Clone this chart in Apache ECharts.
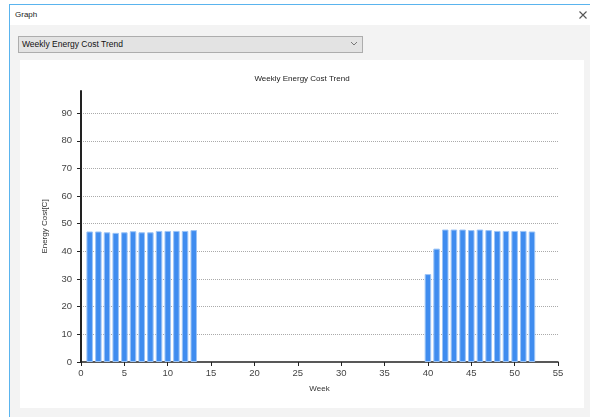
<!DOCTYPE html>
<html><head><meta charset="utf-8">
<script src="https://cdn.jsdelivr.net/npm/echarts@6/dist/echarts.min.js"></script>
<style>
html,body{margin:0;padding:0;width:590px;height:417px;overflow:hidden;background:#fff;font-family:"Liberation Sans",Arial,sans-serif;}
.abs{position:absolute;}
#chart{position:absolute;left:20px;top:60px;width:564px;height:348px;background:#fff;}
</style></head>
<body>
<div class="abs" style="left:10px;top:25px;width:580px;height:392px;background:#f3f3f3;"></div>
<div class="abs" style="left:9px;top:4px;width:581px;height:1px;background:#5ab4ee;"></div>
<div class="abs" style="left:9px;top:4px;width:1px;height:413px;background:#5ab4ee;"></div>
<div class="abs" style="left:15px;top:10px;font-size:8px;color:#222;">Graph</div>
<svg class="abs" style="left:579px;top:11px;" width="8" height="8"><path d="M0.5 0.5 L7.5 7.5 M7.5 0.5 L0.5 7.5" stroke="#555" stroke-width="1.1" fill="none"/></svg>
<div class="abs" style="left:18px;top:36px;width:343px;height:15px;background:#e3e3e3;border:1px solid #adadad;"></div>
<div class="abs" style="left:22px;top:39px;font-size:8.5px;color:#111;">Weekly Energy Cost Trend</div>
<svg class="abs" style="left:350px;top:41px;" width="8" height="6"><path d="M1 1 L4 4 L7 1" stroke="#777" stroke-width="1" fill="none"/></svg>
<div id="chart"></div>
<script>
const weeks = [1,2,3,4,5,6,7,8,9,10,11,12,13,40,41,42,43,44,45,46,47,48,49,50,51,52];
const costs = [47.2,47.2,46.9,46.7,46.9,47.3,46.9,46.9,47.4,47.4,47.4,47.4,47.7,31.8,41.0,47.9,47.9,47.9,47.7,47.9,47.7,47.4,47.4,47.4,47.4,47.2];
const yTicks = [0,10,20,30,40,50,60,70,80,90];
const xTicks = [0,5,10,15,20,25,30,35,40,45,50,55];
const chartTitle = 'Weekly Energy Cost Trend';
const xName = 'Week';
const yName = 'Energy Cost[C]';

const chart = echarts.init(document.getElementById('chart'));
const fontFamily = '"Liberation Sans", Arial, sans-serif';
chart.setOption({
  animation: false,
  backgroundColor: '#fff',
  title: {text: chartTitle, left: 'center', top: 10, textStyle: {fontSize: 8, fontWeight: 'normal', color: '#222', fontFamily}},
  grid: {left: 61, right: 26, top: 31, bottom: 46},
  xAxis: {
    type: 'value', min: 0, max: 55, interval: 5,
    name: xName, nameLocation: 'middle', nameGap: 23,
    nameTextStyle: {fontSize: 8, color: '#333', fontFamily},
    axisLine: {show: true, onZero: false, lineStyle: {color: '#222', width: 1.5}},
    axisTick: {show: true, length: 4, lineStyle: {color: '#222'}, customValues: xTicks},
    axisLabel: {fontSize: 9.5, color: '#444', margin: 6, fontFamily, customValues: xTicks},
    splitLine: {show: false}
  },
  yAxis: {
    type: 'value', min: 0, max: 98, interval: 10,
    name: yName, nameLocation: 'middle', nameGap: 32, nameRotate: 90,
    nameTextStyle: {fontSize: 8, color: '#333', fontFamily},
    axisLine: {show: true, lineStyle: {color: '#222', width: 2}},
    axisTick: {show: true, length: 4, lineStyle: {color: '#222'}, customValues: yTicks},
    axisLabel: {fontSize: 9.5, color: '#444', margin: 9, fontFamily, customValues: yTicks},
    splitLine: {show: true, showMinLine: false, lineStyle: {type: 'dotted', color: '#aaa', width: 1}}
  },
  series: [{
    type: 'bar',
    data: weeks.map((w, i) => [w, costs[i]]),
    barWidth: 6.5,
    itemStyle: {color: '#3f8cef', borderColor: '#9cc4f6', borderWidth: 1}
  }]
});
</script>
</body></html>
